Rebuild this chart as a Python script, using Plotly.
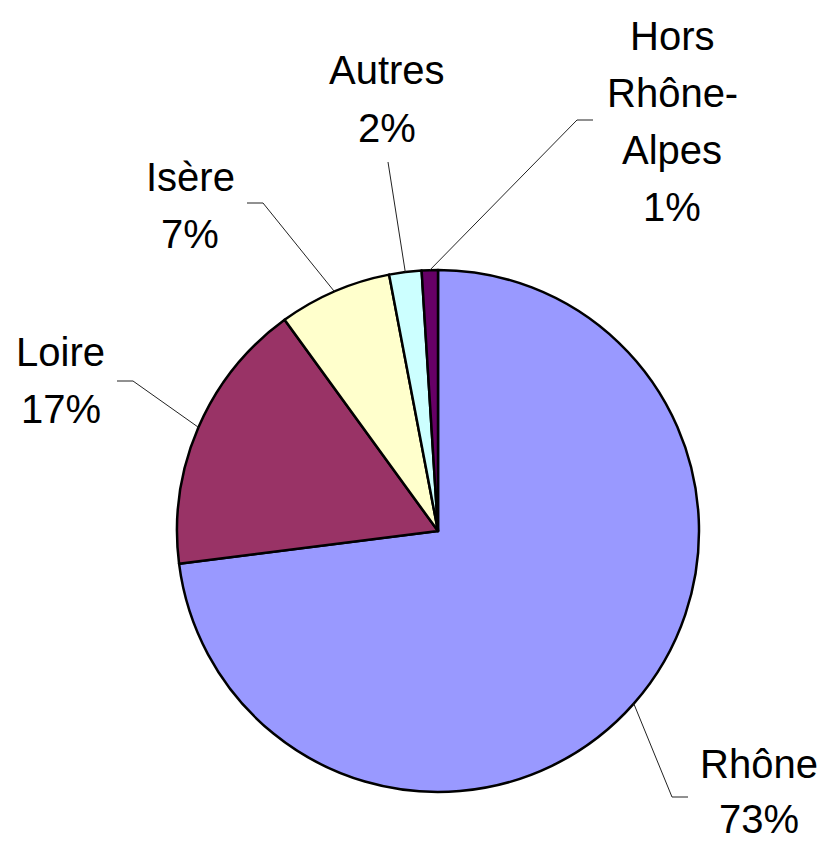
import math
import plotly.graph_objects as go

# ---- data ----
categories = ["Rhône", "Loire", "Isère", "Autres", "Hors Rhône-Alpes"]
label_lines = [["Rhône"], ["Loire"], ["Isère"], ["Autres"], ["Hors", "Rhône-", "Alpes"]]
values = [73, 17, 7, 2, 1]

# ---- styling ----
colors = ["#9999FF", "#993366", "#FFFFCC", "#CCFFFF", "#660066"]
OFF = 8                              # page body margin
W, H = 826 - OFF, 842 - OFF
CX, CY, R = 438 - OFF, 531 - OFF, 261  # pie centre / radius in figure pixels
FONT = dict(family="Liberation Sans, Arial, sans-serif", size=40, color="black")
LINE_GAP = [55, 57, 57, 58, 57]
# label block: (centre x, centre y of first line) in page pixels
label_pos = [(759, 764), (61, 352), (190, 177), (387, 70), (672, 36)]
# leader elbow point and horizontal tail (page pixels)
leader_elbow = [(672, 797, 16), (133, 381, -16), (263, 203, -16), (388, 162, 0), (577, 120, 16)]

def px2paper(x, y):
    return x / W, 1 - y / H

fig = go.Figure(go.Pie(
    labels=categories, values=values, sort=False, direction="clockwise", rotation=0,
    marker=dict(colors=colors, line=dict(color="black", width=2.5)),
    textinfo="none", hoverinfo="skip", showlegend=False,
    domain=dict(x=[(CX - R) / W, (CX + R) / W], y=[1 - (CY + R) / H, 1 - (CY - R) / H]),
))

total = sum(values)
cum = 0
annotations, shapes = [], []
for i, v in enumerate(values):
    frac = v / total
    theta = 2 * math.pi * (cum + frac / 2)
    cum += frac
    sx, sy = CX + R * math.sin(theta), CY - R * math.cos(theta)
    ex, ey, tail = leader_elbow[i]
    ex, ey = ex - OFF, ey - OFF
    x0, y0 = px2paper(sx, sy)
    x1, y1 = px2paper(ex, ey)
    x2, y2 = px2paper(ex + tail, ey)
    shapes.append(dict(type="path", xref="paper", yref="paper",
                       path=f"M {x0} {y0} L {x1} {y1} L {x2} {y2}",
                       line=dict(color="#222222", width=1)))
    lines = label_lines[i] + [f"{round(frac * 100)}%"]
    lx, ly = label_pos[i]
    for k, t in enumerate(lines):
        ax_, ay_ = px2paper(lx - OFF, ly - OFF + k * LINE_GAP[i])
        annotations.append(dict(text=t, x=ax_, y=ay_, xref="paper", yref="paper",
                                xanchor="center", yanchor="middle", showarrow=False, font=FONT))

fig.update_layout(width=W, height=H, margin=dict(l=0, r=0, t=0, b=0),
                  paper_bgcolor="white", plot_bgcolor="white",
                  annotations=annotations, shapes=shapes)
fig.write_html("out.html")
